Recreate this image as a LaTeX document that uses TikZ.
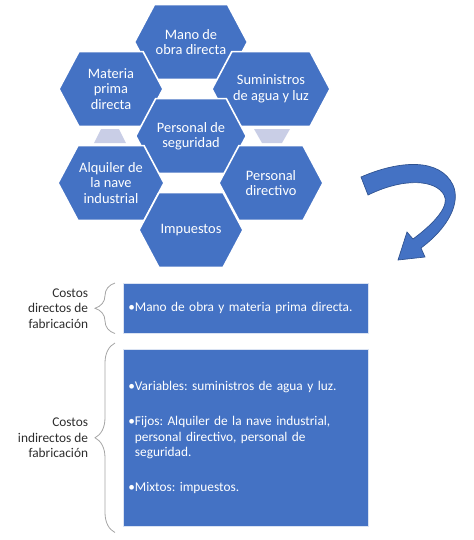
\documentclass[tikz,border=0pt]{standalone}
\usepackage{fontspec}
\setmainfont{Carlito}
\usetikzlibrary{shapes.symbols,positioning,decorations.pathreplacing,calc}

\definecolor{officeblue}{RGB}{68,114,196}
\definecolor{arrowedge}{RGB}{47,82,143}
\definecolor{lightlav}{RGB}{201,206,230}
\definecolor{bracegray}{RGB}{165,165,165}
\definecolor{labeltext}{RGB}{45,45,45}

\tikzset{
  hexa/.style={signal, signal to=east and west, signal pointer angle=124,
    fill=officeblue, draw=white, line width=1.2pt, text=white,
    minimum width=78pt, minimum height=56pt, inner sep=1pt, align=center,
    font=\fontsize{10.8}{11.6}\selectfont},
  costbox/.style={fill=officeblue, draw=white!80!officeblue, text=white,
    anchor=north west, minimum width=183.75pt, text width=176.25pt,
    inner xsep=3.75pt, inner ysep=0pt, align=left,
    font=\fontsize{10}{11.6}\selectfont},
  costlabel/.style={text=labeltext, align=right, inner sep=0pt,
    font=\fontsize{10}{11.6}\selectfont},
  costbrace/.style={draw=bracegray, line width=0.6pt,
    decorate, decoration={brace, amplitude=15pt}},
  joiner/.style={fill=lightlav, draw=none}
}

\begin{document}
\frenchspacing
\begin{tikzpicture}[x=0.75pt, y=-0.75pt]
  \useasboundingbox (0,0) rectangle (474,540);

  % honeycomb
  \path[joiner] (101,129) -- (119,129) -- (126,143) -- (94,143) -- cycle;
  \path[joiner] (254,129) -- (290,129) -- (282,143) -- (262,143) -- cycle;

  \node[hexa] (mano) at (191,42) {Mano de\\obra directa};
  \node[hexa] (materia) at (111,89) {Materia\\prima\\directa};
  \node[hexa] (suministros) at (271,89) {Suministros\\de agua y luz};
  \node[hexa] (seguridad) at (191,136) {Personal de\\seguridad};
  \node[hexa] (alquiler) at (111,183) {Alquiler de\\la nave\\industrial};
  \node[hexa] (directivo) at (271,183) {Personal\\directivo};
  \node[hexa] (impuestos) at (191,230) {Impuestos};

  % curved arrow
  \filldraw[fill=officeblue, draw=arrowedge, line width=0.5pt]
    (361,177) .. controls (400,160) and (440,158) .. (453,185)
    .. controls (461,203) and (448,228) .. (421,248)
    -- (425,257) -- (398,260) -- (407,232) -- (413,239)
    .. controls (436,222) and (450,205) .. (444,195)
    .. controls (436,180) and (405,177) .. (368,195) -- cycle;

  % cost boxes
  \node[costbox, minimum height=37.5pt] (directos) at (123,283)
    {•Mano de obra y materia prima directa.};
  \node[costbox, minimum height=132.75pt] (indirectos) at (123,349)
    {•Variables: suministros de agua y luz.\\[14.6pt]
     •Fijos: Alquiler de la nave industrial,\\
     \hphantom{•}personal directivo, personal de\\
     \hphantom{•}seguridad.\\[14.6pt]
     •Mixtos: impuestos.};

  \node[costlabel, left=26pt of directos] (lbldirectos)
    {Costos\\directos de\\fabricación};
  \node[costlabel, left=26pt of indirectos] (lblindirectos)
    {Costos\\indirectos de\\fabricación};

  \draw[costbrace] ($(directos.south west)+(-8,0)$) -- ($(directos.north west)+(-8,0)$);
  \draw[costbrace] ($(indirectos.south west)+(-8,6)$) -- ($(indirectos.north west)+(-8,-6)$);
\end{tikzpicture}
\end{document}
